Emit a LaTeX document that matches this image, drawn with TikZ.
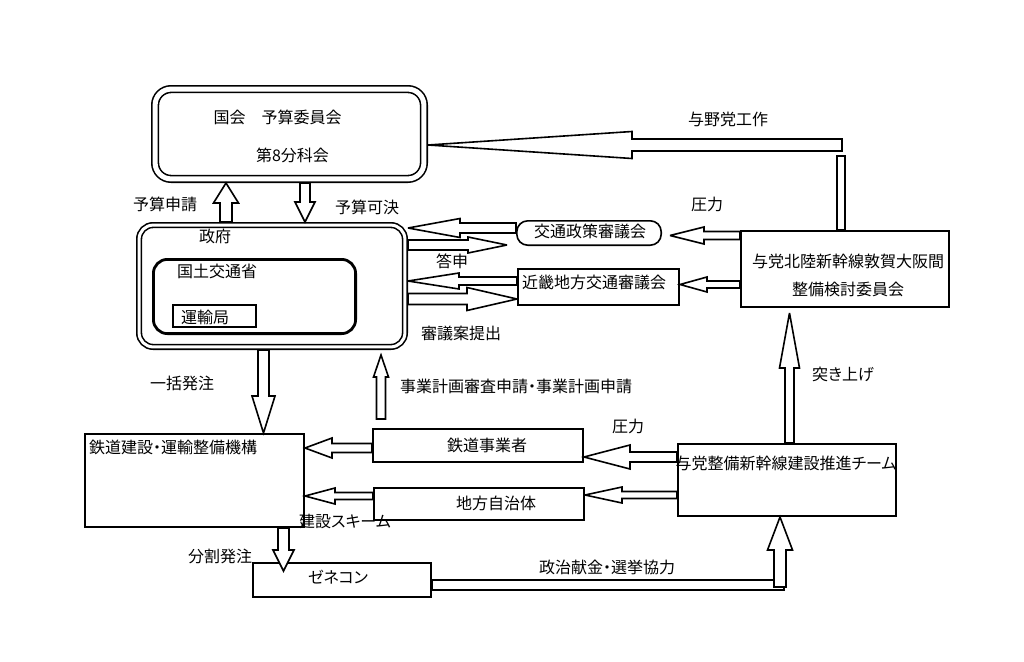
\documentclass[tikz,border=0pt]{standalone}
\usepackage{fontspec}
\newfontfamily\jp[RawFeature=+palt]{Noto Sans CJK JP}
\usetikzlibrary{calc}
% block arrow: #1 start, #2 tip, #3 shaft half width, #4 head half width, #5 head length
\newcommand\barrow[5]{%
  \draw[blk] let \p1=#1, \p2=#2, \n1={atan2(\y2-\y1,\x2-\x1)} in
    ($(\p1)+(\n1+90:#3)$) -- ($(\p2)+(\n1+180:#5)+(\n1+90:#3)$) --
    ($(\p2)+(\n1+180:#5)+(\n1+90:#4)$) -- (\p2) --
    ($(\p2)+(\n1+180:#5)+(\n1-90:#4)$) -- ($(\p2)+(\n1+180:#5)+(\n1-90:#3)$) --
    ($(\p1)+(\n1-90:#3)$) -- cycle;}
\begin{document}
\begin{tikzpicture}[x=1pt,y=-1pt,
  font=\jp\fontsize{16}{19}\selectfont,
  box/.style={draw, line width=1.6pt, inner sep=0pt},
  txt/.style={inner sep=0pt, anchor=center},
  blk/.style={draw, line width=1.6pt, fill=white, line join=miter, miter limit=4}]
\useasboundingbox (0,0) rectangle (1024,661);
\fill[white] (0,0) rectangle (1024,661);

% ---- boxes
\node[box, double, double distance=5pt, rounded corners=16pt, minimum width=268.8pt, minimum height=89.8pt, outer sep=4.1pt] (kokkai) at (289.5,134) {};
\node[box, double, double distance=3pt, rounded corners=14pt, minimum width=265.8pt, minimum height=121.8pt, outer sep=3.1pt] (seifu) at (272,286) {};
\node[box, line width=2.8pt, rounded corners=14pt, minimum width=202.2pt, minimum height=74.2pt] (mlit) at (254.5,296.5) {};
\node[box, minimum width=83.4pt, minimum height=22.4pt] (unyu) at (214.5,316) {};
\node[box, rounded corners=11pt, minimum width=144.4pt, minimum height=24.4pt] (koutsu) at (589,233) {};
\node[box, minimum width=161.4pt, minimum height=36.4pt] (kinki) at (598.5,287) {};
\node[box, minimum width=208.4pt, minimum height=76.4pt] (yotou1) at (845,269) {};
\node[box, minimum width=218.4pt, minimum height=72.4pt] (yotou2) at (787,480) {};
\node[box, minimum width=210.4pt, minimum height=33.4pt] (tetsu) at (478,445.5) {};
\node[box, minimum width=210.4pt, minimum height=32.4pt] (chihou) at (479,504) {};
\node[box, minimum width=219.4pt, minimum height=93.4pt] (kikou) at (194.5,480.5) {};
\node[box, minimum width=178.4pt, minimum height=34.4pt] (zene) at (342,580) {};

% ---- texts in boxes
\node[txt] (kokkaiA) at (277.5,117) {国会\hspace{1em}予算委員会};
\node[txt] (kokkaiB) at (292.5,155) {第8分科会};
\node[txt] (seifuT) at (215,236) {政府};
\node[txt] (mlitT) at (217,271) {国土交通省};
\node[txt] (unyuT) at (205,317) {運輸局};
\node[txt] (koutsuT) at (590,231) {交通政策審議会};
\node[txt] (kinkiT) at (594,282) {近畿地方交通審議会};
\node[txt] (yotou1A) at (848,261) {与党北陸新幹線敦賀大阪間};
\node[txt] (yotou1B) at (848,289) {整備検討委員会};
\node[txt] (yotou2T) at (786,463) {与党整備新幹線建設推進チーム};
\node[txt] (tetsuT) at (487,445) {鉄道事業者};
\node[txt] (chihouT) at (496,503) {地方自治体};
\node[txt, anchor=west] (kikouT) at (89,447) {鉄道建設・運輸整備機構};
\node[txt] (zeneT) at (338,577) {ゼネコン};

% ---- labels
\node[txt] (lYosanShinsei) at (165,204) {予算申請};
\node[txt] (lYosanKaketsu) at (367,207) {予算可決};
\node[txt] (lYoyato) at (728,119) {与野党工作};
\node[txt] (lAtsu1) at (707,204) {圧力};
\node[txt] (lToshin) at (452,261) {答申};
\node[txt] (lShingi) at (461,333) {審議案提出};
\node[txt] (lTsuki) at (843,374) {突き上げ};
\node[txt] (lIkkatsu) at (182,383) {一括発注};
\node[txt] (lJigyo) at (516,386) {事業計画審査申請・事業計画申請};
\node[txt] (lAtsu2) at (628,426) {圧力};
\node[txt] (lScheme) at (345,521) {建設スキーム};
\node[txt] (lBunkatsu) at (220,556) {分割発注};
\node[txt] (lKenkin) at (607,567) {政治献金・選挙協力};

% ---- free ends
\coordinate (yyStart) at (842,145);
\coordinate (toshinTip) at (507,245);
\coordinate (kTip) at (670,235.5);
\coordinate (tsukiTip) at (789.5,313);
\coordinate (jgStart) at (381,419);
\coordinate (jgTip) at (381,355);
\coordinate (bunTip) at (283.5,571);
\coordinate (kenkinStart) at (780,587);

% ---- block arrows
\barrow{(seifu.north -| 226,0)}{(kokkai.south -| 226,0)}{6pt}{12.5pt}{20pt}
\barrow{(kokkai.south -| 305,0)}{(seifu.north -| 305,0)}{5pt}{10pt}{20pt}
\draw[blk] (837,156) rectangle (yotou1.north -| 845,0);
\barrow{(yyStart)}{(kokkai.east |- 0,145)}{6pt}{13.5pt}{204pt}
\barrow{(koutsu.west |- 0,228)}{(seifu.east |- 0,228)}{5pt}{9.5pt}{52pt}
\barrow{(seifu.east |- 0,245)}{(toshinTip)}{5pt}{8pt}{39pt}
\barrow{(kinki.west |- 0,281)}{(seifu.east |- 0,281)}{4pt}{8pt}{51pt}
\barrow{(seifu.east |- 0,299)}{(kinki.west |- 0,299)}{5.5pt}{11.5pt}{50pt}
\barrow{(yotou1.west |- 0,235.5)}{(kTip)}{4pt}{8.5pt}{34pt}
\barrow{(yotou1.west |- 0,284.5)}{(kinki.east |- 0,284.5)}{3.5pt}{7.5pt}{27pt}
\barrow{(yotou2.north -| 789.5,0)}{(tsukiTip)}{4.5pt}{10pt}{55pt}
\barrow{(yotou2.west |- 0,457)}{(tetsu.east |- 0,457)}{5pt}{12pt}{46pt}
\barrow{(yotou2.west |- 0,495)}{(chihou.east |- 0,495)}{3.5pt}{8pt}{37pt}
\barrow{(jgStart)}{(jgTip)}{4.5pt}{7.5pt}{22pt}
\barrow{(seifu.south -| 263.5,0)}{(kikou.north -| 263.5,0)}{5.5pt}{11.5pt}{37pt}
\barrow{(tetsu.west |- 0,448)}{(kikou.east |- 0,448)}{4.5pt}{10pt}{27pt}
\barrow{(chihou.west |- 0,496)}{(kikou.east |- 0,496)}{3.5pt}{8pt}{30pt}
\barrow{(kikou.south -| 283.5,0)}{(bunTip)}{5.5pt}{10.5pt}{21pt}
\draw[blk] (zene.east |- 0,580) rectangle (784,590);
\barrow{(kenkinStart)}{(yotou2.south -| 780,0)}{6pt}{12.5pt}{33pt}
\end{tikzpicture}
\end{document}
